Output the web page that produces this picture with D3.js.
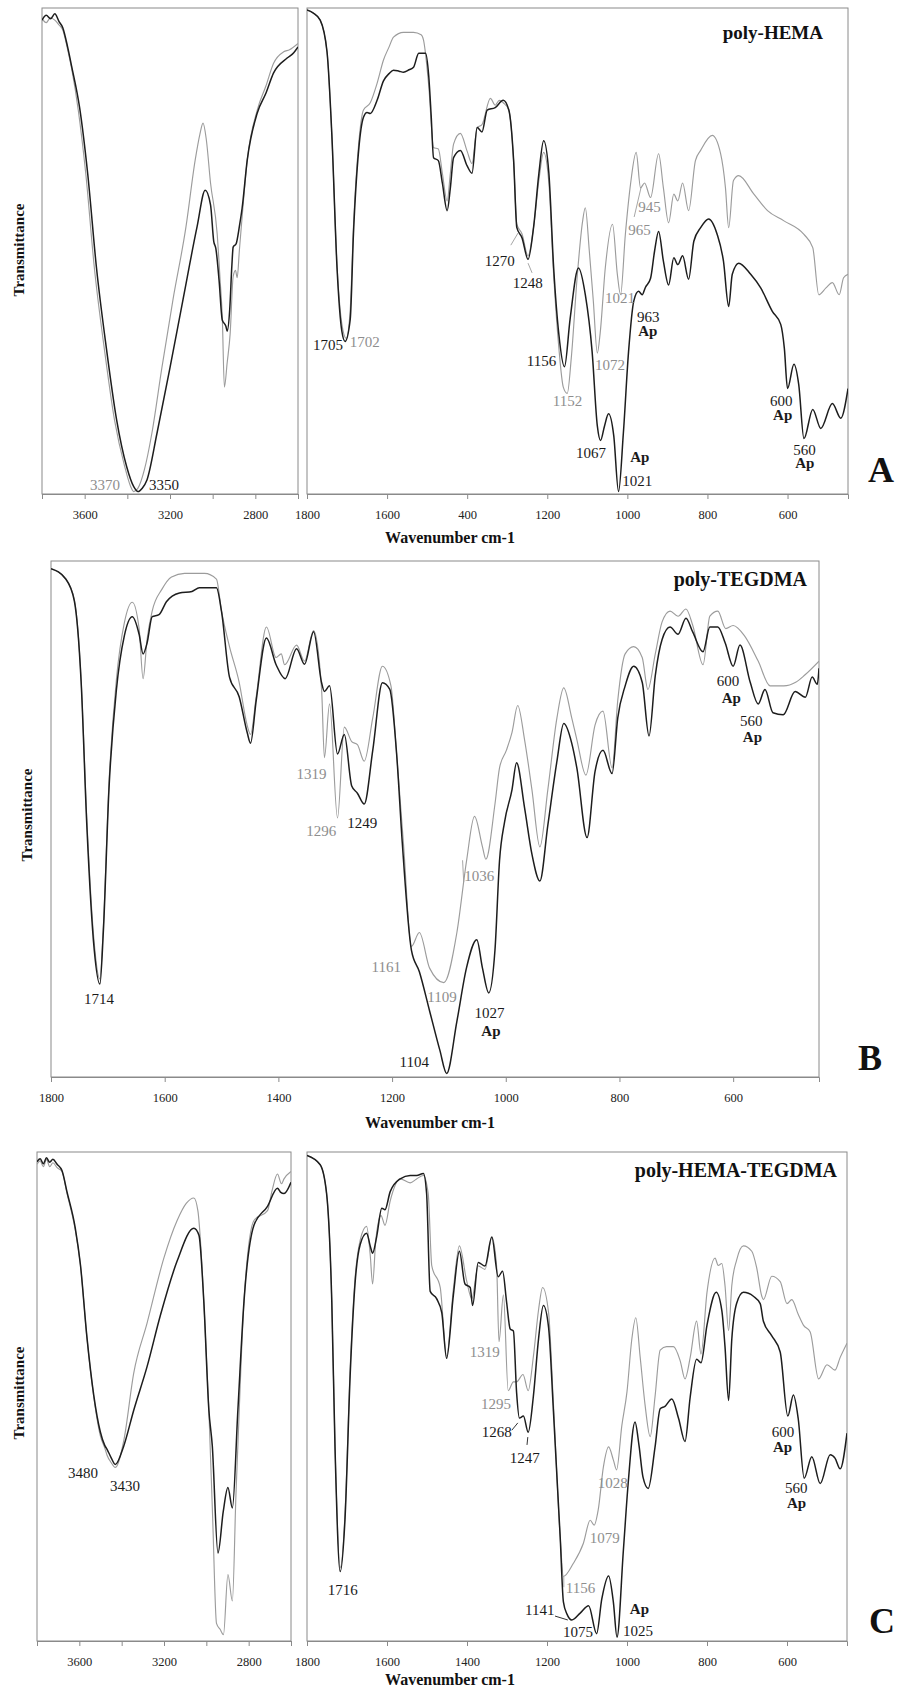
<!DOCTYPE html>
<html>
<head>
<meta charset="utf-8">
<script src="https://cdn.jsdelivr.net/npm/d3@7"></script>
<style>
  body { margin: 0; background: #fff; }
  svg text { font-family: "Liberation Serif", "DejaVu Serif", serif; }
</style>
</head>
<body>
<svg id="chart" width="897" height="1690"></svg>
<script>
// ---- data: [wavenumber cm-1, relative transmittance 0..100] ----

// A - poly-HEMA, O-H / C-H region
const hemaOhDark = [[3800,97.5],[3780,98.5],[3760,97.8],[3740,98.8],[3720,97.2],[3703,96],[3680,92],[3661,88],[3624,79.6],[3586,66],[3545,46.7],[3497,29.6],[3450,15.2],[3403,5.6],[3370,1.5],[3350,0.5],[3330,1.2],[3308,2.9],[3261,12.5],[3200,26],[3139,40],[3073,55],[3035,62.5],[3010,59.5],[2995,52],[2985,50.5],[2970,44],[2955,35.8],[2938,34.5],[2932,33.5],[2920,38],[2910,47],[2904,50.8],[2890,51.5],[2875,55],[2862,58.8],[2838,68.7],[2791,78.4],[2750,82.5],[2715,86.6],[2651,89.7],[2620,90.8],[2600,92]];
const hemaOhLight = [[3800,97.8],[3780,97],[3760,98],[3740,97.5],[3720,96.5],[3703,95.5],[3680,91.5],[3661,87.5],[3630,79],[3595,66],[3555,46.7],[3507,29.6],[3460,15.2],[3412,5.6],[3385,1.6],[3370,0.5],[3350,1.2],[3320,5],[3285,12.5],[3238,26],[3186,40],[3125,55],[3082,68.7],[3060,74],[3045,76.3],[3030,73],[3010,64],[2979,53.6],[2965,44],[2955,36.5],[2945,22],[2932,27],[2918,33],[2904,44.7],[2893,46],[2885,44.5],[2875,50],[2862,57],[2838,68.7],[2791,79],[2750,84],[2715,88.6],[2667,91],[2640,91.4],[2600,92.7]];

// A - poly-HEMA, fingerprint region
const hemaFpDark = [[1800,99.6],[1785,99],[1767,97.5],[1750,91],[1738,74],[1725,46.5],[1713,33.5],[1705,31.4],[1692,36],[1684,53.5],[1671,70.7],[1659,77.5],[1650,78.5],[1642,78.3],[1625,81],[1609,85],[1595,86.5],[1584,87.2],[1570,87],[1559,86.8],[1545,87.3],[1534,87.8],[1521,90.7],[1504,90.7],[1496,86],[1490,78],[1484,69.2],[1472,68.6],[1462,64],[1450,58.3],[1442,63],[1434,69.2],[1417,70.7],[1400,67.5],[1388,66],[1375,75.4],[1363,74.5],[1350,79],[1330,79.5],[1310,81],[1296,79],[1284,68.6],[1276,54.8],[1263,52.7],[1248,48.3],[1234,55],[1221,65.9],[1209,72.7],[1196,66],[1184,46.5],[1171,32.8],[1157,26.2],[1143,36],[1122,46.5],[1105,41],[1088,29.3],[1075,14],[1067,11],[1057,14],[1047,16.5],[1034,12],[1022,0.5],[1010,12.5],[997,29.3],[984,39.7],[972,41.7],[963,41],[955,42.5],[942,44.4],[932,50],[922,54],[910,47.9],[897,43],[884,48.6],[874,47.2],[862,49],[847,44.2],[834,52],[817,54.8],[797,56.6],[776,53.5],[760,47.9],[747,38.6],[738,45.2],[722,47.5],[692,45.2],[667,42.4],[638,37.6],[617,34.9],[608,30],[600,21.7],[584,26.7],[572,22.5],[559,11.4],[537,17.4],[517,13.5],[488,18.6],[467,15.6],[449,21.7]];
const hemaFpLight = [[1800,99.6],[1785,99],[1767,97.5],[1750,91],[1738,74],[1725,47],[1713,35],[1702,32],[1692,38],[1684,55],[1671,72],[1659,79],[1642,80.5],[1625,84.5],[1609,89.3],[1595,92],[1584,94],[1559,95],[1534,95],[1515,94.5],[1509,93.4],[1496,84],[1484,71.3],[1472,71],[1462,66],[1450,60.3],[1442,66],[1434,72],[1417,74.2],[1400,70.5],[1388,68],[1375,75.4],[1363,76],[1342,81.4],[1330,80],[1320,81],[1310,80.5],[1296,79],[1284,68.6],[1276,55.5],[1263,53.5],[1248,49],[1234,55],[1221,64.5],[1209,70.3],[1196,64],[1184,45],[1171,30],[1160,22],[1150,20.7],[1140,28],[1125,45],[1112,56],[1105,58.9],[1095,50],[1085,39.7],[1075,29],[1068,33],[1055,46.6],[1037,55.5],[1025,45.2],[1017,41],[1005,53.4],[992,63.8],[978,70.3],[967,63],[957,64],[942,61],[922,70],[910,63],[897,55.8],[884,61.7],[874,60.3],[862,64],[847,58.3],[830,68.6],[817,70.7],[788,73.8],[767,70],[755,63],[747,54.8],[735,64.5],[722,65.5],[684,61.7],[650,58.3],[609,56.2],[559,53.4],[537,50.7],[522,41],[504,42.4],[488,43.5],[471,41],[460,44.5],[449,45.2]];

// B - poly-TEGDMA
const tegDark = [[1800,98.5],[1774,96.5],[1759,92.3],[1747,76.6],[1737,48.8],[1724,24.7],[1714,18],[1708,28],[1698,55.8],[1685,75],[1671,85.5],[1657,89.2],[1645,85.8],[1638,82],[1631,84.1],[1622,89.2],[1610,89.6],[1597,92.1],[1574,93.8],[1552,94.1],[1539,94.8],[1509,94.8],[1500,90.2],[1486,77.5],[1469,73.7],[1455,66.8],[1449,64.7],[1439,73],[1421,85.1],[1404,79.9],[1388,77.2],[1368,83],[1354,80],[1338,86.3],[1324,76.4],[1319,74.7],[1310,75.8],[1296,62.6],[1284,66.4],[1271,56.4],[1261,55],[1249,52.9],[1234,63.3],[1217,76.4],[1204,75.1],[1192,62.6],[1182,45.3],[1166,24.6],[1152,20.4],[1134,12.8],[1116,5.2],[1104,0.7],[1086,10.8],[1069,21.2],[1051,26.6],[1041,21.1],[1030,16.3],[1019,24.6],[1011,41.9],[1002,49.5],[989,55.7],[981,60.9],[967,52.2],[954,43.2],[940,38],[926,48.8],[910,61.2],[898,68.5],[884,64.7],[875,59.9],[857,46.4],[843,59.2],[829,63.3],[813,58.8],[803,69.6],[790,75.8],[775,79.6],[760,76.5],[748,66.1],[737,77.8],[725,84.8],[711,87.2],[697,85.8],[683,88.9],[671,86.2],[653,82.4],[641,87.2],[627,87.2],[614,84.1],[600,79.6],[588,83.7],[570,76.5],[556,72.3],[544,75.1],[530,70.6],[512,70.2],[491,74.7],[473,73.6],[461,77.5],[452,76.1],[449,79.2]];
const tegLight = [[1800,98.5],[1774,96.5],[1759,92.5],[1747,77],[1737,50],[1724,26],[1714,19],[1708,29],[1698,57],[1685,77],[1671,88],[1657,92],[1645,86.9],[1638,77.2],[1631,84.8],[1622,90.3],[1605,94.5],[1588,96.9],[1565,97.6],[1530,97.6],[1509,96.5],[1500,90.3],[1486,83.4],[1469,76.5],[1455,68.2],[1449,66.4],[1439,73.7],[1421,87.2],[1404,81.3],[1395,82],[1389,79.9],[1368,83.7],[1354,80.6],[1338,86.5],[1324,75.1],[1319,61.9],[1310,72.3],[1296,50.2],[1284,67.8],[1271,65],[1261,64.4],[1249,61.2],[1234,69.6],[1217,79.6],[1202,75.8],[1192,62.6],[1180,45.3],[1166,25.3],[1152,28],[1134,21.1],[1109,18.3],[1086,28],[1069,41.9],[1055,50.5],[1041,44.6],[1035,42.2],[1019,52.9],[1011,59.9],[999,63.3],[989,66.8],[979,72],[967,65.4],[954,55.7],[940,44.6],[926,55.7],[910,69.6],[898,75.4],[884,69.6],[875,65.4],[859,58.5],[843,68.2],[829,70.9],[813,59.9],[803,73],[790,82],[775,83.4],[760,81.3],[750,75.1],[737,82],[725,88.2],[711,90.3],[697,89.3],[683,90.7],[671,87.5],[653,79.9],[641,89.3],[627,90.3],[613,86.9],[600,87.5],[580,85.5],[556,80.6],[535,75.8],[511,75.8],[490,76.5],[474,77.9],[449,80.6]];

// C - poly-HEMA-TEGDMA, O-H / C-H region
const coOhDark = [[3800,98],[3785,98.6],[3770,97.6],[3755,98.8],[3740,97.9],[3725,98.5],[3705,97.5],[3682,96.2],[3658,91.8],[3619,84.4],[3595,77],[3564,62.1],[3532,50.3],[3501,42.8],[3480,40],[3469,39.2],[3450,37.5],[3430,36.1],[3390,39.9],[3343,47.2],[3280,56.1],[3217,66.6],[3138,77.7],[3059,84.4],[3035,83],[3012,69.5],[2988,47.2],[2972,40],[2945,18],[2920,26.5],[2898,31.4],[2877,27.2],[2851,47.2],[2822,69.5],[2775,85],[2711,88.9],[2664,92.6],[2650,91.8],[2633,91.5],[2600,93.8]];
const coOhLight = [[3800,97.5],[3785,98.2],[3770,97],[3755,98.5],[3740,97],[3725,97.8],[3705,96.8],[3682,96],[3658,91.5],[3619,84],[3595,77],[3564,62],[3532,50],[3501,42],[3480,39.5],[3469,38],[3450,36.5],[3430,35.5],[3390,41],[3343,54.8],[3280,65],[3200,78.4],[3138,86],[3095,89.5],[3059,90.6],[3040,88],[3025,80],[3012,69.5],[2988,47.2],[2970,25],[2952,3.6],[2935,2.4],[2919,1.3],[2898,13.6],[2877,8.2],[2860,30],[2851,40],[2822,69.5],[2775,86],[2711,88],[2690,92],[2664,95.5],[2645,93.5],[2633,94.5],[2600,96]];

// C - poly-HEMA-TEGDMA, fingerprint region
const coFpDark = [[1800,99.3],[1767,97.4],[1751,91.5],[1738,69.3],[1730,39.7],[1717,14.2],[1705,24.9],[1692,54.5],[1680,73],[1667,81.1],[1651,83.4],[1642,80.8],[1636,79.3],[1626,82.6],[1613,88.5],[1605,88.2],[1592,91.9],[1567,94.5],[1542,95.2],[1526,95.2],[1509,95.6],[1501,91.5],[1492,71.5],[1476,70],[1463,67.1],[1451,57.8],[1434,70.8],[1419,79.7],[1405,73],[1392,72.3],[1386,68.6],[1372,77.4],[1355,76.7],[1338,82.6],[1322,74.5],[1311,75.6],[1301,69.3],[1292,63.8],[1284,63.4],[1276,50.8],[1269,45.6],[1259,46],[1247,42.7],[1234,50.1],[1221,61.9],[1209,68.6],[1196,64.1],[1184,47.1],[1167,21.2],[1159,8],[1150,5.5],[1138,4.3],[1117,5.7],[1096,7.2],[1076,1.5],[1063,8.6],[1046,13.3],[1034,7.9],[1025,0.8],[1009,18.6],[997,32.3],[980,44.8],[970,40],[960,33.5],[947,31.2],[930,39.6],[917,47.5],[905,48],[888,49.5],[871,45.5],[855,40.8],[842,49.9],[826,57.6],[815,56.9],[800,64.6],[777,71.3],[763,67.6],[755,60.2],[746,49.2],[738,61.7],[726,69],[709,71.3],[684,70.5],[667,69],[659,65.4],[638,62.4],[617,59.1],[598,46],[584,50.3],[572,45.5],[557,33.3],[538,37.7],[517,32.2],[492,38.1],[480,37.4],[467,35.2],[450,42.5]];
const coFpLight = [[1800,99.3],[1767,97.4],[1751,91.5],[1738,69.3],[1730,40],[1717,15],[1705,26],[1692,56],[1680,74],[1667,82],[1651,84.8],[1642,79],[1636,73],[1628,82],[1615,87],[1605,85],[1592,90],[1567,94.5],[1542,93.7],[1526,94.5],[1509,95.2],[1497,91.5],[1488,76.7],[1467,72.3],[1451,58.2],[1434,72],[1419,80.8],[1401,73.7],[1388,70],[1372,76.7],[1355,76],[1338,82.6],[1326,76.7],[1320,61.2],[1309,70.8],[1297,51.2],[1284,53],[1276,53],[1260,54.5],[1247,51.2],[1234,58.2],[1221,67.8],[1211,72.3],[1196,67.1],[1184,48.6],[1167,21.2],[1159,13.2],[1134,15.9],[1109,20],[1092,24.7],[1082,23.7],[1072,26.8],[1059,35.6],[1046,39.7],[1034,37],[1026,35],[1013,44],[1000,51],[988,61.7],[978,66.1],[967,58],[955,48.4],[942,41.8],[930,49.9],[917,59.5],[901,60.2],[884,60.2],[867,57.3],[855,53.6],[842,58],[826,65.4],[815,58.7],[800,71.3],[780,78.3],[772,76.8],[763,77.2],[755,72.7],[746,63.5],[738,72.7],[726,77.9],[709,80.8],[688,79.7],[676,76.4],[663,70.5],[659,69.8],[638,74.6],[617,73.5],[600,69],[588,69.8],[572,66.8],[559,64.6],[542,63.2],[521,53.6],[500,56.5],[480,55.4],[467,58],[450,60.9]];

// ---- tick values / labels ----
const highTicks = [3800, 3600, 3400, 3200, 3000, 2800, 2600];
const highLabels = [3600, 3200, 2800];
const fpTicks = [1800, 1600, 1400, 1200, 1000, 800, 600];
const fpLabels = ["1800", "1600", "1400", "1200", "1000", "800", "600"];
const fpLabelsA = ["1800", "1600", "400", "1200", "1000", "800", "600"];   // as printed in panel A

// ---- band annotations: text, wavenumber, transmittance, colour, bold ----
const notesAL = [["3370",3434,0.8,"light",false,"end"],["3350",3298,0.8,"dark"]];
const notesAR = [["1705",1785,29.6,"dark"],["1702",1693,30.2,"light"],["1270",1356,46.9,"dark"],["1248",1286,42.4,"dark"],
  ["1156",1251,26.3,"dark"],["1152",1186,18.1,"light"],["1067",1128,7.4,"dark"],["1072",1081,25.5,"light"],
  ["1021",1056,39.3,"light"],["945",973,58,"light"],["965",998,53.3,"light"],["963",976,35.4,"dark"],["Ap",973,32.5,"dark",true],
  ["Ap",993,6.6,"dark",true],["1021",1013,1.6,"dark"],["600",644,18.1,"dark"],["Ap",636,15.2,"dark",true],
  ["560",586,8,"dark"],["Ap",581,5.3,"dark",true]];
const notesB = [["1714",1742,14.1,"dark"],["1319",1368,57.8,"light"],["1296",1351,46.7,"light"],["1249",1279,48.3,"dark"],
  ["1161",1236,20.3,"light"],["1109",1138,14.5,"light"],["1104",1187,1.9,"dark"],["1036",1073,38,"light"],
  ["1027",1055,11.4,"dark"],["Ap",1043,7.9,"dark",true],["600",629,75.8,"dark"],["Ap",620,72.5,"dark",true],
  ["560",588,68,"dark"],["Ap",583,64.9,"dark",true]];
const notesCL = [["3480",3654,33.3,"dark"],["3430",3455,30.7,"dark"]];
const notesCR = [["1716",1748,9.4,"dark"],["1319",1393,58.1,"light"],["1295",1365,47.4,"light"],["1268",1363,41.7,"dark"],
  ["1247",1293,36.4,"dark"],["1156",1153,9.8,"light"],["1141",1255,5.3,"dark"],["1075",1160,0.8,"dark"],
  ["1079",1093,20,"light"],["1028",1073,31.3,"light"],["Ap",993,5.5,"dark",true],["1025",1010,1,"dark"],
  ["600",638,41.7,"dark"],["Ap",635,38.7,"dark",true],["560",605,30.3,"dark"],["Ap",600,27.2,"dark",true]];

// leader lines: [wn1, t1, wn2, t2, colour]
const leadersAR = [[1291,51.2,1273,53.7,"light"],[1248,47.5,1238,45.5,"light"],[983,57,966,63,"light"]];
const leadersB = [[1076,42,1074,37.8,"light"]];
const leadersCR = [[1288,43.1,1273,44.6,"dark"],[1248,41.7,1250,40.1,"dark"],[1180,5.1,1148,4.3,"dark"],[1158,13.1,1158,11,"light"]];

// ---- styling ----
const colors = { dark: '#1d1d1d', light: '#9c9c9c' };
const frameColor = '#8a8a8a';

const svg = d3.select('#chart');

/**
 * Draw one framed spectrum box with its two traces
 */
let drawBox = (cfg) => {
    const x = d3.scaleLinear().domain(cfg.domain).range([cfg.x0, cfg.x1]);
    const y = d3.scaleLinear().domain([0, 100]).range([cfg.bottom, cfg.top]);
    const g = svg.append('g');

    g.append('clipPath').attr('id', 'clip-' + cfg.id)
        .append('rect')
        .attr('x', cfg.x0).attr('y', cfg.top - 2)
        .attr('width', cfg.x1 - cfg.x0).attr('height', cfg.bottom - cfg.top + 2);

    g.append('rect')
        .attr('x', cfg.x0).attr('y', cfg.top)
        .attr('width', cfg.x1 - cfg.x0).attr('height', cfg.bottom - cfg.top)
        .attr('fill', 'none').attr('stroke', frameColor).attr('stroke-width', 1);

    const axis = d3.axisBottom(x)
        .tickValues(cfg.ticks)
        .tickSize(5)
        .tickPadding(11)
        .tickFormat(cfg.fmt);

    const ax = g.append('g')
        .attr('transform', `translate(0,${cfg.bottom})`)
        .call(axis);
    ax.select('.domain').attr('stroke', frameColor);
    ax.selectAll('.tick line').attr('stroke', frameColor);
    ax.selectAll('.tick text')
        .attr('fill', '#222')
        .attr('font-size', '12.5px')
        .attr('font-family', '"Liberation Serif", "DejaVu Serif", serif');

    const line = d3.line()
        .x(d => x(d[0]))
        .y(d => y(d[1]))
        .curve(d3.curveMonotoneX);

    const traces = g.append('g').attr('clip-path', `url(#clip-${cfg.id})`);
    cfg.series.forEach(([data, tone]) => {
        const sorted = data.slice().sort((a, b) => b[0] - a[0]);
        traces.append('path')
            .attr('d', line(sorted))
            .attr('fill', 'none')
            .attr('stroke', colors[tone])
            .attr('stroke-width', tone === 'dark' ? 1.5 : 1.15)
            .attr('stroke-linejoin', 'round');
    });

    (cfg.leaders || []).forEach(l => {
        g.append('line')
            .attr('x1', x(l[0])).attr('y1', y(l[1]))
            .attr('x2', x(l[2])).attr('y2', y(l[3]))
            .attr('stroke', colors[l[4]]).attr('stroke-width', 0.9);
    });

    g.selectAll('text.note')
        .data(cfg.notes || [])
        .join('text')
        .attr('class', 'note')
        .attr('x', d => x(d[1]))
        .attr('y', d => y(d[2]))
        .attr('text-anchor', d => d[5] || 'start')
        .attr('font-size', '15px')
        .attr('font-weight', d => d[4] ? 'bold' : 'normal')
        .attr('fill', d => d[3] === 'light' ? '#8e8e8e' : '#1a1a1a')
        .text(d => d[0]);
};

const highFmt = d => highLabels.includes(d) ? String(d) : '';
const fpFmt = d => fpLabels[fpTicks.indexOf(d)];
const fpFmtA = d => fpLabelsA[fpTicks.indexOf(d)];

const panels = [
    { id: 'aL', domain: [3800, 2600], x0: 42, x1: 298, top: 8, bottom: 494, ticks: highTicks, fmt: highFmt,
      series: [[hemaOhLight, 'light'], [hemaOhDark, 'dark']], notes: notesAL },
    { id: 'aR', domain: [1800, 449], x0: 307, x1: 848, top: 8, bottom: 494, ticks: fpTicks, fmt: fpFmtA,
      series: [[hemaFpLight, 'light'], [hemaFpDark, 'dark']], notes: notesAR, leaders: leadersAR },
    { id: 'b', domain: [1800, 449], x0: 51, x1: 819, top: 561, bottom: 1077, ticks: fpTicks, fmt: fpFmt,
      series: [[tegLight, 'light'], [tegDark, 'dark']], notes: notesB, leaders: leadersB },
    { id: 'cL', domain: [3800, 2600], x0: 37, x1: 291, top: 1152, bottom: 1641, ticks: highTicks, fmt: highFmt,
      series: [[coOhLight, 'light'], [coOhDark, 'dark']], notes: notesCL },
    { id: 'cR', domain: [1800, 450], x0: 307, x1: 847, top: 1152, bottom: 1641, ticks: fpTicks, fmt: fpFmt,
      series: [[coFpLight, 'light'], [coFpDark, 'dark']], notes: notesCR, leaders: leadersCR }
];

panels.forEach(drawBox);

// ---- panel texts ----
const yTitles = [[19, 250], [27, 815], [19, 1393]];
yTitles.forEach(([cx, cy]) => {
    svg.append('text')
        .attr('transform', `translate(${cx},${cy}) rotate(-90)`)
        .attr('text-anchor', 'middle')
        .attr('dy', '0.35em')
        .attr('font-size', '15px')
        .attr('font-weight', 'bold')
        .attr('fill', '#111')
        .text('Transmittance');
});

const xTitles = [[450, 543], [430, 1128], [450, 1685]];
xTitles.forEach(([cx, by]) => {
    svg.append('text')
        .attr('x', cx).attr('y', by)
        .attr('text-anchor', 'middle')
        .attr('font-size', '16px')
        .attr('font-weight', 'bold')
        .attr('fill', '#111')
        .text('Wavenumber cm-1');
});

const titles = [['poly-HEMA', 823, 39, 19], ['poly-TEGDMA', 807, 586, 20], ['poly-HEMA-TEGDMA', 837, 1177, 20]];
titles.forEach(([t, ex, by, fs]) => {
    svg.append('text')
        .attr('x', ex).attr('y', by)
        .attr('text-anchor', 'end')
        .attr('font-size', fs + 'px')
        .attr('font-weight', 'bold')
        .attr('fill', '#111')
        .text(t);
});

const letters = [['A', 868, 482], ['B', 858, 1070], ['C', 869, 1633]];
letters.forEach(([t, lx, by]) => {
    svg.append('text')
        .attr('x', lx).attr('y', by)
        .attr('font-size', '36px')
        .attr('font-weight', 'bold')
        .attr('fill', '#111')
        .text(t);
});
</script>
</body>
</html>
